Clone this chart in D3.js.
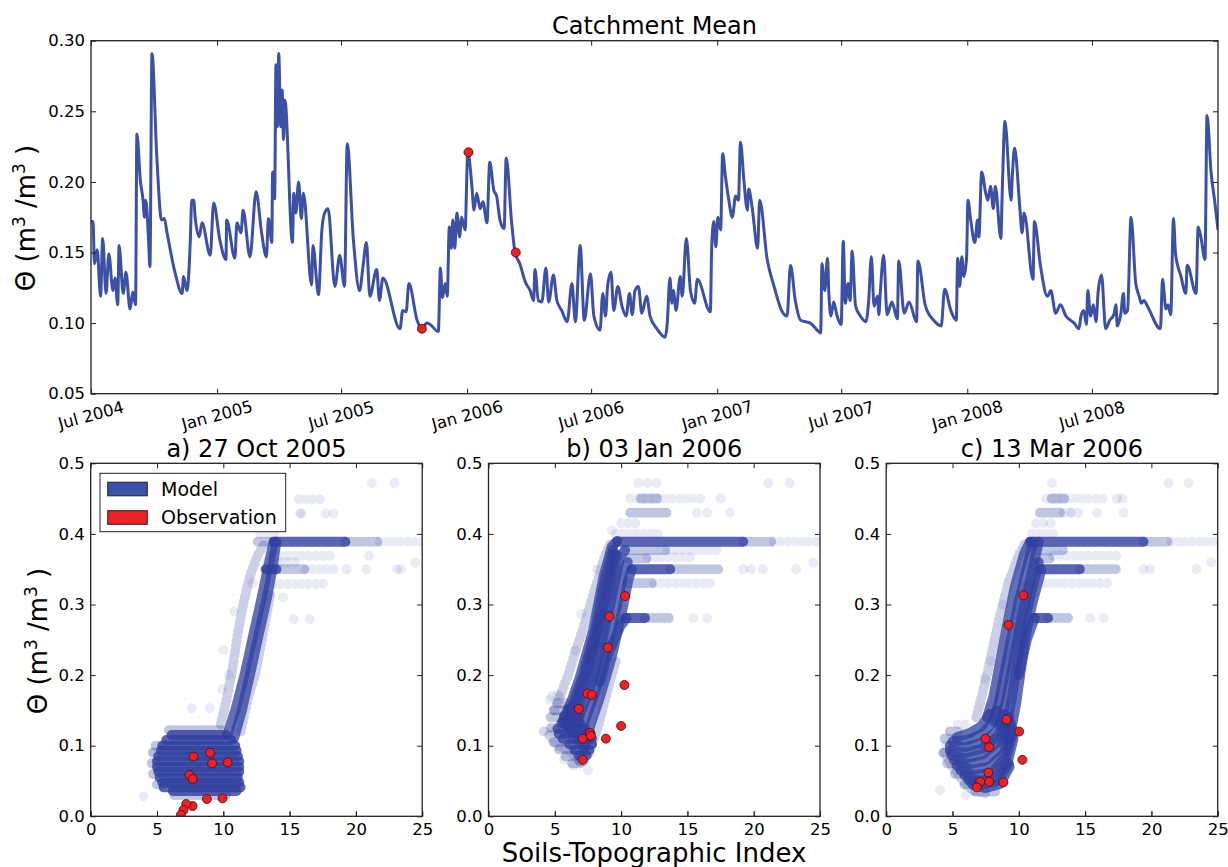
<!DOCTYPE html>
<html>
<head>
<meta charset="utf-8">
<script src="https://cdn.jsdelivr.net/npm/d3@7"></script>
<style>
  body { margin: 0; background: #fff; }
  svg text { font-family: "DejaVu Sans", sans-serif; fill: #000; }
</style>
</head>
<body>
<script>
// ---- catchment mean series: days since 1 Jul 2004, soil moisture
const seriesDays = [0,3,5,9,14,17,22,26,32,35,39,41,47,51,57,61,65,67,72,76,78,80,84,86,89,96,103,107,111,123,133,135,140,145,147,150,152,158,162,174,179,188,197,198,210,213,219,222,232,241,249,256,259,264,265,268,270,272,274,277,279,281,283,294,296,299,303,307,310,322,324,332,337,341,346,356,363,370,374,383,392,397,402,407,417,421,426,451,455,460,464,476,483,490,495,507,510,513,517,520,523,526,528,531,534,538,541,546,550,556,559,563,568,572,578,582,588,592,597,603,606,614,619,626,634,641,646,648,653,658,664,668,675,680,687,695,702,707,714,720,729,734,743,747,751,754,759,763,769,775,781,786,790,794,799,804,811,816,826,838,841,845,848,850,854,860,863,869,875,881,885,904,906,909,912,915,919,922,926,931,936,941,945,948,953,958,960,965,973,976,987,997,1009,1016,1021,1028,1036,1050,1062,1065,1067,1071,1075,1077,1080,1084,1089,1095,1098,1101,1105,1108,1111,1116,1123,1131,1135,1139,1143,1148,1150,1152,1157,1162,1169,1177,1179,1187,1194,1205,1207,1218,1230,1241,1246,1255,1263,1265,1268,1271,1274,1278,1280,1284,1290,1294,1296,1300,1306,1309,1313,1317,1320,1328,1330,1334,1343,1345,1348,1356,1359,1362,1375,1377,1386,1396,1401,1408,1415,1423,1435,1442,1445,1449,1453,1455,1459,1463,1467,1470,1475,1481,1487,1493,1496,1498,1503,1507,1509,1513,1518,1525,1530,1533,1537,1542,1561,1564,1569,1572,1576,1580,1583,1591,1598,1600,1613,1616,1620,1626,1629,1635,1640,1645];
const seriesTheta = [0.172,0.172,0.142,0.152,0.119,0.160,0.121,0.149,0.123,0.132,0.113,0.155,0.121,0.136,0.110,0.122,0.113,0.234,0.201,0.187,0.175,0.187,0.159,0.140,0.291,0.218,0.173,0.174,0.164,0.135,0.121,0.133,0.123,0.159,0.187,0.187,0.175,0.161,0.171,0.148,0.185,0.159,0.145,0.173,0.146,0.171,0.164,0.180,0.147,0.193,0.164,0.147,0.174,0.157,0.207,0.188,0.283,0.239,0.291,0.239,0.265,0.230,0.258,0.157,0.192,0.178,0.200,0.174,0.192,0.127,0.155,0.120,0.166,0.178,0.181,0.126,0.148,0.126,0.227,0.159,0.123,0.140,0.157,0.119,0.138,0.116,0.132,0.096,0.109,0.108,0.128,0.102,0.096,0.100,0.099,0.094,0.139,0.118,0.128,0.119,0.168,0.153,0.173,0.153,0.178,0.161,0.175,0.166,0.221,0.197,0.180,0.192,0.181,0.186,0.171,0.214,0.194,0.190,0.173,0.167,0.217,0.171,0.150,0.142,0.129,0.123,0.116,0.138,0.116,0.115,0.139,0.115,0.134,0.116,0.109,0.101,0.128,0.101,0.155,0.102,0.135,0.105,0.095,0.121,0.105,0.126,0.136,0.109,0.126,0.112,0.105,0.121,0.106,0.123,0.126,0.107,0.119,0.105,0.096,0.090,0.099,0.132,0.114,0.123,0.109,0.133,0.119,0.160,0.123,0.114,0.131,0.108,0.154,0.172,0.154,0.175,0.166,0.220,0.204,0.187,0.175,0.190,0.187,0.228,0.201,0.180,0.195,0.182,0.153,0.187,0.145,0.126,0.108,0.105,0.141,0.116,0.102,0.100,0.094,0.093,0.142,0.123,0.146,0.121,0.105,0.115,0.105,0.099,0.158,0.114,0.128,0.116,0.151,0.112,0.105,0.101,0.115,0.147,0.112,0.119,0.106,0.121,0.148,0.106,0.115,0.103,0.144,0.107,0.115,0.101,0.144,0.112,0.102,0.098,0.124,0.109,0.102,0.146,0.126,0.147,0.133,0.146,0.187,0.173,0.157,0.173,0.161,0.207,0.192,0.187,0.197,0.181,0.197,0.160,0.192,0.243,0.187,0.206,0.224,0.180,0.164,0.178,0.131,0.172,0.140,0.119,0.123,0.107,0.113,0.105,0.100,0.096,0.105,0.109,0.099,0.123,0.105,0.113,0.101,0.122,0.134,0.096,0.102,0.106,0.113,0.098,0.106,0.121,0.107,0.109,0.175,0.128,0.119,0.114,0.116,0.112,0.096,0.131,0.110,0.113,0.106,0.174,0.149,0.133,0.121,0.141,0.121,0.168,0.161,0.145,0.247,0.206,0.187,0.166];

// observation dates highlighted on the catchment series
const obsDates = ["2005-10-27", "2006-01-03", "2006-03-13"];
const obsCatchTheta = [0.096, 0.221, 0.150];

const timeTickLabels = ["Jul 2004", "Jan 2005", "Jul 2005", "Jan 2006", "Jul 2006", "Jan 2007", "Jul 2007", "Jan 2008", "Jul 2008"];
const topYTicks = [0.05, 0.10, 0.15, 0.20, 0.25, 0.30];
const panelXTicks = [0, 5, 10, 15, 20, 25];
const panelYTicks = [0, 0.1, 0.2, 0.3, 0.4, 0.5];
const panelTitles = ["a) 27 Oct 2005", "b) 03 Jan 2006", "c) 13 Mar 2006"];

// ---- model cloud, panel a : rows [theta, sti from, sti to], tracks [[sti, theta], ...]
const denseRowsA = [[0.115,6.1,10.2],[0.108,5.7,10.6],[0.100,5.4,10.9],[0.093,5.3,11.0],[0.085,5.1,11.1],[0.078,5.0,11.2],[0.070,5.0,11.2],[0.063,5.1,11.2],[0.055,5.2,11.1],[0.048,5.4,11.2],[0.041,5.5,11.3],[0.036,6.2,11.0],[0.389,13.8,19.2],[0.350,13.2,14.0]];
const midRowsA = [[0.389,12.6,13.8],[0.389,19.2,21.8],[0.350,14.0,16.2],[0.122,5.9,10.0],[0.030,6.3,10.5],[0.100,4.9,5.5],[0.090,4.7,5.3],[0.075,4.6,5.2],[0.060,4.7,5.3],[0.045,5.0,5.6]];
const faintRowsA = [[0.389,21.8,25],[0.350,16.2,18.6],[0.449,15.7,17.7],[0.429,15.8,16.2],[0.369,13.8,18.5],[0.329,13.8,17.8],[0.360,13.3,15.5],[0.400,12.8,14.2]];
const denseTracksA = [
  [[10.3,0.115],[10.9,0.15],[11.6,0.2],[12.3,0.26],[12.9,0.31],[13.4,0.355],[13.8,0.389]],
  [[10.8,0.11],[11.4,0.15],[12.0,0.2],[12.7,0.26],[13.3,0.31],[13.7,0.35],[14.0,0.389]]
];
const midTracksA = [
  [[9.8,0.13],[10.3,0.17],[10.7,0.21],[11.1,0.26],[11.5,0.3],[12.0,0.34],[12.6,0.37],[13.2,0.389]],
  [[11.3,0.12],[11.9,0.17],[12.4,0.2],[13.0,0.26],[13.6,0.32]]
];
const sparseA = [[21.2,0.472],[22.9,0.472],[15.9,0.429],[17.7,0.429],[18.3,0.429],[21.0,0.369],[19.3,0.35],[20.8,0.35],[23.1,0.35],[23.4,0.35],[15.3,0.279],[16.5,0.279],[24.5,0.359],[10.8,0.29],[10.0,0.236],[7.6,0.153],[8.96,0.153],[3.97,0.028],[4.73,0.0915],[10.4,0.2],[9.9,0.18],[12.2,0.33],[14.5,0.31]];
const obsA = [[7.75,0.0845],[9.0,0.090],[9.16,0.075],[10.32,0.0765],[7.45,0.0585],[7.7,0.053],[8.76,0.0245],[9.94,0.0255],[7.68,0.0146],[7.2,0.0174],[7.0,0.009],[6.8,0.002]];

// ---- model cloud, panel b
const denseRowsB = [[0.389,9.7,19.2],[0.350,10.8,13.7],[0.281,10.3,11.8],[0.132,5.5,6.9],[0.124,5.2,7.3],[0.117,5.3,7.7],[0.110,5.6,7.8],[0.102,6.1,7.8],[0.094,6.5,7.6],[0.086,6.8,7.4],[0.142,5.7,6.8],[0.152,6.0,6.6]];
const midRowsB = [[0.389,19.2,21.5],[0.350,13.7,17.5],[0.430,10.7,13.7],[0.377,10.3,13.5],[0.330,10.5,12.5],[0.281,11.8,13.7],[0.450,11.5,12.8],[0.365,10.4,12.0],[0.125,4.7,5.3],[0.078,6.9,7.5],[0.140,4.7,5.6],[0.150,4.9,5.9],[0.160,5.2,6.1],[0.105,4.9,5.7],[0.095,5.3,6.5],[0.085,5.8,6.8],[0.075,6.3,7.0]];
const faintRowsB = [[0.389,21.5,25],[0.450,10.7,16.2],[0.367,12.0,15.5],[0.330,12.5,17.2],[0.400,9.6,13.0],[0.377,13.5,17.5],[0.415,10.0,11.2],[0.170,4.8,5.8],[0.120,4.2,4.8]];
const denseTracksB = [
  [[5.6,0.135],[6.3,0.165],[6.9,0.198],[7.9,0.264],[8.67,0.339],[9.3,0.382],[9.7,0.39]],
  [[5.8,0.13],[6.5,0.165],[7.15,0.2],[8.05,0.263],[8.8,0.335],[9.4,0.378]],
  [[6.0,0.128],[6.7,0.165],[7.4,0.205],[8.2,0.262],[9.0,0.33],[9.5,0.372]],
  [[6.2,0.123],[6.85,0.158],[7.55,0.192],[8.4,0.253],[9.15,0.32],[9.7,0.37]],
  [[6.4,0.118],[7.0,0.15],[7.66,0.179],[8.54,0.245],[9.3,0.31],[9.93,0.368],[10.3,0.377]],
  [[6.8,0.107],[7.35,0.14],[8.05,0.175],[8.9,0.235],[9.7,0.3],[10.25,0.35],[10.5,0.36]],
  [[7.2,0.095],[7.7,0.13],[8.42,0.17],[9.3,0.226],[10.05,0.288],[10.55,0.335],[10.8,0.35]],
  [[8.4,0.19],[8.92,0.226],[9.93,0.269],[10.4,0.281]]
];
const midTracksB = [
  [[5.0,0.15],[6.0,0.2],[7.2,0.27],[8.0,0.32],[8.8,0.37],[9.3,0.39]],
  [[4.6,0.115],[5.3,0.1],[6.3,0.09],[7.0,0.075]],
  [[7.6,0.09],[8.3,0.13],[9.0,0.18],[9.6,0.22]]
];
const sparseB = [[11.3,0.472],[12.0,0.472],[12.7,0.472],[21.1,0.472],[22.7,0.472],[17.5,0.45],[15.7,0.43],[16.5,0.43],[18.2,0.43],[19.2,0.35],[19.8,0.35],[20.7,0.35],[23.2,0.35],[15.45,0.281],[16.5,0.281],[24.5,0.359],[4.15,0.12],[4.65,0.165],[5.2,0.172],[7.0,0.287],[6.5,0.235],[8.2,0.35],[9.3,0.405],[5.7,0.08],[6.4,0.072],[7.5,0.065]];
const obsB = [[10.3,0.312],[9.12,0.283],[9.0,0.239],[10.25,0.186],[7.46,0.174],[7.79,0.172],[6.81,0.152],[10.0,0.128],[7.11,0.110],[7.65,0.118],[7.72,0.114],[8.85,0.110],[7.11,0.080]];

// ---- model cloud, panel c
const denseRowsC = [[0.389,10.85,19.4],[0.350,11.6,14.6],[0.281,11.2,12.2]];
const midRowsC = [[0.389,19.4,21.5],[0.350,14.6,17.6],[0.430,11.6,13.4],[0.281,12.2,13.9],[0.377,11.5,13.5],[0.450,12.5,13.5],[0.365,11.4,12.6],[0.120,4.8,5.6],[0.110,4.4,5.0],[0.090,4.3,4.9],[0.075,4.6,5.4],[0.060,5.2,6.0],[0.045,5.9,6.8],[0.035,6.7,8.4]];
const faintRowsC = [[0.389,21.5,25],[0.450,12.1,16.4],[0.369,12.6,17.5],[0.330,11.9,17.1],[0.400,11.0,13.0],[0.430,13.4,14.5],[0.415,11.3,12.0],[0.130,5.4,6.4]];
const denseTracksC = [
  [[5.3,0.112],[6.3,0.118],[7.2,0.128],[7.8,0.145]],
  [[5.0,0.106],[6.1,0.108],[7.2,0.116],[8.0,0.132],[8.4,0.15]],
  [[4.8,0.10],[6.0,0.098],[7.2,0.104],[8.3,0.12],[8.9,0.145]],
  [[4.8,0.093],[6.0,0.09],[7.25,0.096],[8.45,0.114],[9.1,0.142]],
  [[4.9,0.087],[6.0,0.082],[7.3,0.088],[8.6,0.108],[9.3,0.14]],
  [[5.1,0.08],[6.2,0.074],[7.5,0.079],[8.75,0.099],[9.4,0.132]],
  [[5.3,0.072],[6.5,0.066],[7.8,0.07],[8.9,0.09],[9.5,0.125]],
  [[5.6,0.065],[6.7,0.058],[8.0,0.062],[9.05,0.085],[9.55,0.118]],
  [[5.9,0.058],[7.0,0.05],[8.2,0.055],[9.2,0.08],[9.6,0.11]],
  [[6.2,0.051],[7.2,0.045],[8.4,0.05],[9.25,0.075]],
  [[6.5,0.045],[7.5,0.04],[8.6,0.046],[9.3,0.07]],
  [[7.6,0.14],[8.1,0.17],[8.9,0.25],[9.7,0.325],[10.4,0.372],[10.85,0.389]],
  [[8.1,0.135],[8.55,0.165],[9.25,0.235],[9.95,0.3],[10.6,0.35],[11.1,0.389]],
  [[8.6,0.13],[9.0,0.16],[9.6,0.22],[10.2,0.28],[10.8,0.33],[11.3,0.372],[11.5,0.389]],
  [[8.95,0.12],[9.4,0.16],[10.05,0.237],[10.6,0.29],[11.15,0.333],[11.5,0.36]],
  [[9.3,0.11],[9.8,0.16],[10.5,0.254],[11.0,0.30],[11.5,0.335],[11.7,0.35]],
  [[10.0,0.2],[10.6,0.25],[11.2,0.281]]
];
const midTracksC = [
  [[6.8,0.14],[7.6,0.2],[8.4,0.27],[9.2,0.33],[10.0,0.37],[10.6,0.39]],
  [[4.4,0.09],[5.0,0.07],[5.8,0.05],[6.6,0.036],[7.6,0.032]],
  [[8.2,0.14],[9.0,0.2],[9.8,0.27],[10.5,0.33]]
];
const sparseC = [[12.5,0.472],[21.3,0.472],[22.8,0.472],[17.4,0.45],[17.8,0.45],[13.9,0.43],[15.9,0.43],[17.9,0.43],[19.4,0.35],[19.9,0.35],[23.4,0.35],[15.4,0.281],[16.4,0.281],[24.5,0.36],[4.07,0.037],[4.5,0.1],[7.9,0.22],[7.4,0.195],[8.8,0.3],[12.4,0.415],[6.0,0.03]];
const obsC = [[10.35,0.313],[9.22,0.271],[9.07,0.137],[10.03,0.120],[7.48,0.110],[7.76,0.098],[10.27,0.080],[7.71,0.062],[7.09,0.049],[7.76,0.049],[8.84,0.048],[6.84,0.041]];

// ---------------------------------------------------------------
const width = 1228;
const height = 867;
const lineColor = "#3c50a5";
const modelColor = "#2f3f9f";
const obsColor = "#ec2027";
const tickFont = 16.5;

const svg = d3.select("body").append("svg").attr("width", width).attr("height", height);

const startDate = new Date(2004, 6, 1);
const parseMonth = d3.timeParse("%b %Y");
const parseDay = d3.timeParse("%Y-%m-%d");
const timeTicks = timeTickLabels.map(parseMonth);

const series = seriesDays.map((d, i) => ({ date: d3.timeDay.offset(startDate, d), v: seriesTheta[i] }));

// frame + inward ticks on all four sides, matplotlib style
const drawFrame = (g, xs, ys, xTicks, yTicks) => {
  const [x0, x1] = xs.range();
  const [y0, y1] = ys.range();
  g.append("g").attr("transform", `translate(0,${y0})`)
    .call(d3.axisBottom(xs).tickValues(xTicks).tickSize(-5).tickFormat(""));
  g.append("g").attr("transform", `translate(0,${y1})`)
    .call(d3.axisTop(xs).tickValues(xTicks).tickSize(-5).tickFormat(""));
  g.append("g").attr("transform", `translate(${x1},0)`)
    .call(d3.axisRight(ys).tickValues(yTicks).tickSize(-5).tickFormat(""));
  g.selectAll(".domain").remove();
  g.selectAll(".tick line").attr("stroke", "#222").attr("stroke-width", 1);
  g.append("rect")
    .attr("x", x0).attr("y", y1)
    .attr("width", x1 - x0).attr("height", y0 - y1)
    .attr("fill", "none").attr("stroke", "#222").attr("stroke-width", 1.3);
};

const thetaLabel = (text) => {
  text.append("tspan").text("Θ (m");
  text.append("tspan").attr("font-size", "65%").attr("dy", -10).text("3");
  text.append("tspan").attr("dy", 10).text(" /m");
  text.append("tspan").attr("font-size", "65%").attr("dy", -10).text("3");
  text.append("tspan").attr("dy", 10).text(" )");
};

// ---- top panel
const topBox = { left: 91, right: 1218, top: 40.7, bottom: 393.7 };
const x = d3.scaleTime().domain([startDate, new Date(2009, 0, 1)]).range([topBox.left, topBox.right]);
const y = d3.scaleLinear().domain([0.05, 0.30]).range([topBox.bottom, topBox.top]);

svg.append("clipPath").attr("id", "clip-top")
  .append("rect").attr("x", topBox.left).attr("y", topBox.top)
  .attr("width", topBox.right - topBox.left).attr("height", topBox.bottom - topBox.top);

svg.append("path")
  .datum(series)
  .attr("clip-path", "url(#clip-top)")
  .attr("fill", "none")
  .attr("stroke", lineColor)
  .attr("stroke-width", 3)
  .attr("stroke-linejoin", "round")
  .attr("d", d3.line().curve(d3.curveMonotoneX).x((d) => x(d.date)).y((d) => y(d.v)));

svg.append("g").selectAll("circle")
  .data(obsDates)
  .join("circle")
  .attr("cx", (d) => x(parseDay(d)))
  .attr("cy", (d, i) => y(obsCatchTheta[i]))
  .attr("r", 4.5)
  .attr("fill", obsColor)
  .attr("stroke", "#4a0b0b")
  .attr("stroke-width", 0.8);

const topAxes = svg.append("g");
topAxes.append("g").attr("transform", `translate(${topBox.left},0)`)
  .call(d3.axisLeft(y).tickValues(topYTicks).tickSize(-5).tickPadding(6).tickFormat(d3.format(".2f")))
  .call((g) => g.selectAll("text").attr("font-size", tickFont).attr("font-family", "DejaVu Sans"));
drawFrame(topAxes, x, y, timeTicks, topYTicks);

svg.append("g").selectAll("text")
  .data(timeTickLabels)
  .join("text")
  .attr("transform", (d, i) => `translate(${x(timeTicks[i])},415) rotate(-15)`)
  .attr("text-anchor", "middle")
  .attr("dy", "0.36em")
  .attr("font-size", tickFont)
  .text((d) => d);

svg.append("text")
  .attr("x", (topBox.left + topBox.right) / 2)
  .attr("y", 33.5)
  .attr("text-anchor", "middle")
  .attr("font-size", 24)
  .text("Catchment Mean");

svg.append("text")
  .attr("transform", "translate(35,218) rotate(-90)")
  .attr("text-anchor", "middle")
  .attr("font-size", 26)
  .call(thetaLabel);

// ---- scatter panels
const panelW = 331.5;
const panelTop = 463.3;
const panelBottom = 816.3;
const panels = [
  { left: 90.7, dense: denseRowsA, mid: midRowsA, faint: faintRowsA, denseTracks: denseTracksA, midTracks: midTracksA, sparse: sparseA, obs: obsA },
  { left: 488.5, dense: denseRowsB, mid: midRowsB, faint: faintRowsB, denseTracks: denseTracksB, midTracks: midTracksB, sparse: sparseB, obs: obsB },
  { left: 886.2, dense: denseRowsC, mid: midRowsC, faint: faintRowsC, denseTracks: denseTracksC, midTracks: midTracksC, sparse: sparseC, obs: obsC }
];

panels.forEach((p, k) => {
  const px = d3.scaleLinear().domain([0, 25]).range([p.left, p.left + panelW]);
  const py = d3.scaleLinear().domain([0, 0.5]).range([panelBottom, panelTop]);
  const clipId = "clip-p" + k;
  svg.append("clipPath").attr("id", clipId)
    .append("rect").attr("x", p.left).attr("y", panelTop)
    .attr("width", panelW).attr("height", panelBottom - panelTop);

  const g = svg.append("g").attr("clip-path", `url(#${clipId})`);
  const line = d3.line().x((d) => px(d[0])).y((d) => py(d[1]));
  const rowPath = (d) => line([[d[1], d[0]], [d[2], d[0]]]);

  const stroke = (sel, opacity, dash) =>
    sel.attr("fill", "none")
      .attr("stroke", modelColor)
      .attr("stroke-width", 10)
      .attr("stroke-linecap", "round")
      .attr("stroke-linejoin", "round")
      .attr("stroke-opacity", opacity)
      .attr("stroke-dasharray", dash);

  g.append("g").selectAll("circle").data(p.sparse).join("circle")
    .attr("cx", (d) => px(d[0])).attr("cy", (d) => py(d[1]))
    .attr("r", 5).attr("fill", modelColor).attr("fill-opacity", 0.1);
  g.append("g").selectAll("path").data(p.faint).join("path")
    .attr("d", rowPath).call(stroke, 0.11, "0 7");
  g.append("g").selectAll("path").data(p.midTracks).join("path")
    .attr("d", line).call(stroke, 0.25, "0 5");
  g.append("g").selectAll("path").data(p.mid).join("path")
    .attr("d", rowPath).call(stroke, 0.3, "0 4");
  g.append("g").selectAll("path").data(p.dense).join("path")
    .attr("d", rowPath).call(stroke, 0.8, null);
  g.append("g").selectAll("path").data(p.denseTracks).join("path")
    .attr("d", line).call(stroke, 0.75, null);

  g.append("g").selectAll("circle").data(p.obs).join("circle")
    .attr("cx", (d) => px(d[0])).attr("cy", (d) => py(d[1]))
    .attr("r", 4.5)
    .attr("fill", obsColor)
    .attr("stroke", "#4a0b0b")
    .attr("stroke-width", 0.8);

  const axes = svg.append("g");
  axes.append("g").attr("transform", `translate(0,${panelBottom})`)
    .call(d3.axisBottom(px).tickValues(panelXTicks).tickSize(-5).tickPadding(7))
    .call((a) => a.selectAll("text").attr("font-size", tickFont).attr("font-family", "DejaVu Sans"));
  axes.append("g").attr("transform", `translate(${p.left},0)`)
    .call(d3.axisLeft(py).tickValues(panelYTicks).tickSize(-5).tickPadding(6).tickFormat(d3.format(".1f")))
    .call((a) => a.selectAll("text").attr("font-size", tickFont).attr("font-family", "DejaVu Sans"));
  drawFrame(axes, px, py, panelXTicks, panelYTicks);

  svg.append("text")
    .attr("x", p.left + panelW / 2)
    .attr("y", 456.5)
    .attr("text-anchor", "middle")
    .attr("font-size", 24)
    .text(panelTitles[k]);
});

// legend inside panel a
const legend = svg.append("g");
legend.append("rect")
  .attr("x", 100).attr("y", 473.3).attr("width", 185.7).attr("height", 58.4)
  .attr("fill", "#fff").attr("stroke", "#222").attr("stroke-width", 1);
const legendItems = [
  { label: "Model", color: "#3a52a8" },
  { label: "Observation", color: obsColor }
];
legend.selectAll("g.item").data(legendItems).join("g")
  .attr("class", "item")
  .attr("transform", (d, i) => `translate(0,${489 + i * 28.5})`)
  .each(function (d) {
    const item = d3.select(this);
    item.append("rect")
      .attr("x", 107.7).attr("y", -6.8).attr("width", 39.6).attr("height", 13.6)
      .attr("fill", d.color).attr("stroke", "#222").attr("stroke-width", 1);
    item.append("text")
      .attr("x", 161).attr("dy", "0.36em")
      .attr("font-size", 19)
      .text(d.label);
  });

svg.append("text")
  .attr("x", 654)
  .attr("y", 861.5)
  .attr("text-anchor", "middle")
  .attr("font-size", 26)
  .text("Soils-Topographic Index");

svg.append("text")
  .attr("transform", "translate(46.5,641) rotate(-90)")
  .attr("text-anchor", "middle")
  .attr("font-size", 26)
  .call(thetaLabel);
</script>
</body>
</html>
